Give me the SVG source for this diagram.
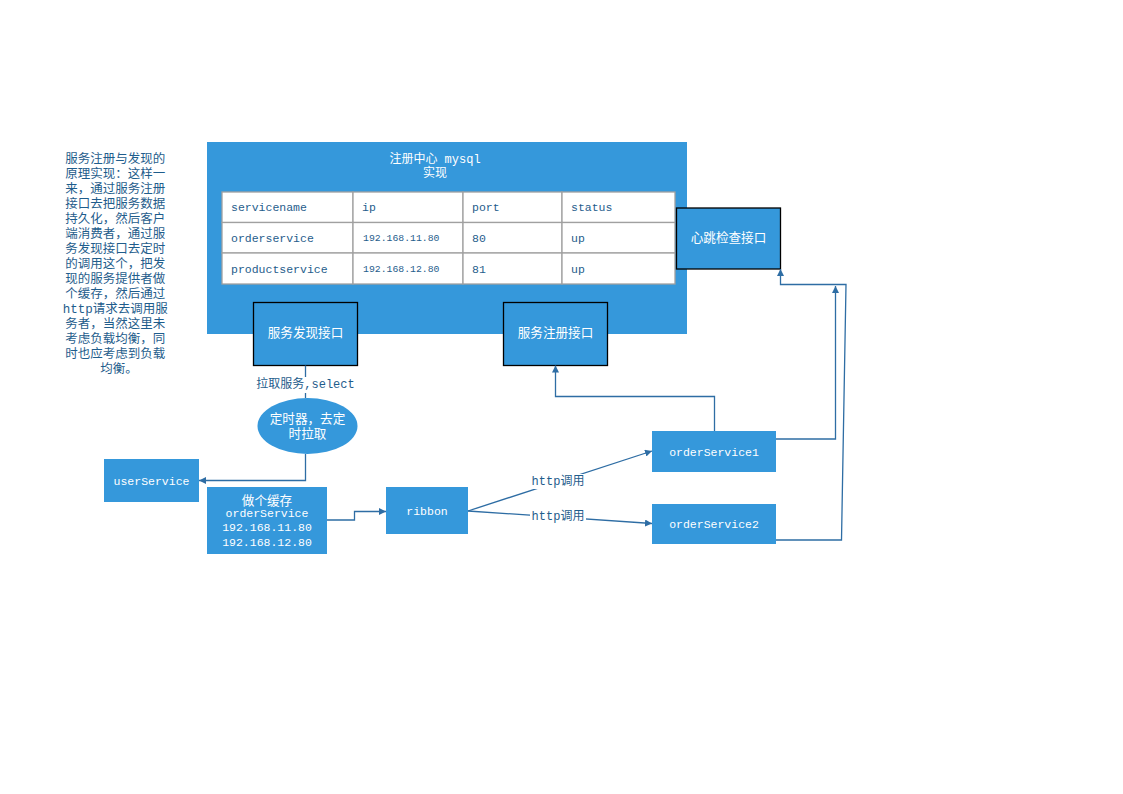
<svg xmlns="http://www.w3.org/2000/svg" width="1123" height="794" viewBox="0 0 1123 794">
<defs>
<style>
.t{font-family:"Liberation Mono","Noto Sans CJK SC",monospace;dominant-baseline:central}
.w{fill:#ffffff}
.d{fill:#1f5d8c}
.c{text-anchor:middle}
.box{fill:#3598db}
.bk{fill:#3598db;stroke:#000000;stroke-width:1.3}
.cell{fill:#ffffff;stroke:#a0a0a0;stroke-width:1.3}
.ln{fill:none;stroke:#2e6da4;stroke-width:1.3}
.lbl{fill:#ffffff}
</style>
<marker id="ah" viewBox="0 0 10 10" refX="10" refY="5" markerWidth="7" markerHeight="7" orient="auto" markerUnits="userSpaceOnUse">
<path d="M0,0 L10,5 L0,10 z" fill="#2e6da4"/>
</marker>
</defs>
<rect width="1123" height="794" fill="#ffffff"/>

<g id="note">
<text class="t d c" font-size="12.5" x="119">
<tspan x="119" y="160">服务注册与发现的</tspan>
<tspan x="119" y="175">原理实现：这样一</tspan>
<tspan x="119" y="190">来，通过服务注册</tspan>
<tspan x="119" y="205">接口去把服务数据</tspan>
<tspan x="119" y="220">持久化，然后客户</tspan>
<tspan x="119" y="235">端消费者，通过服</tspan>
<tspan x="119" y="250">务发现接口去定时</tspan>
<tspan x="119" y="265">的调用这个，把发</tspan>
<tspan x="119" y="280">现的服务提供者做</tspan>
<tspan x="119" y="295">个缓存，然后通过</tspan>
<tspan x="119" y="310">http请求去调用服</tspan>
<tspan x="119" y="325">务者，当然这里未</tspan>
<tspan x="119" y="340">考虑负载均衡，同</tspan>
<tspan x="119" y="355">时也应考虑到负载</tspan>
<tspan x="119" y="370">均衡。</tspan>
</text>
</g>

<g id="registry">
<rect class="box" x="207" y="142" width="480" height="192"/>
<text class="t w c" font-size="12" x="435" y="160">注册中心 mysql</text>
<text class="t w c" font-size="12" x="435" y="174">实现</text>
<g id="table">
<rect class="cell" x="222" y="192" width="131" height="30.5"/>
<rect class="cell" x="353" y="192" width="110" height="30.5"/>
<rect class="cell" x="463" y="192" width="99" height="30.5"/>
<rect class="cell" x="562" y="192" width="113" height="30.5"/>
<rect class="cell" x="222" y="222.5" width="131" height="30.5"/>
<rect class="cell" x="353" y="222.5" width="110" height="30.5"/>
<rect class="cell" x="463" y="222.5" width="99" height="30.5"/>
<rect class="cell" x="562" y="222.5" width="113" height="30.5"/>
<rect class="cell" x="222" y="253" width="131" height="31"/>
<rect class="cell" x="353" y="253" width="110" height="31"/>
<rect class="cell" x="463" y="253" width="99" height="31"/>
<rect class="cell" x="562" y="253" width="113" height="31"/>
<text class="t d" font-size="11.5" x="231" y="207.5">servicename</text>
<text class="t d" font-size="11.5" x="362" y="207.5">ip</text>
<text class="t d" font-size="11.5" x="472" y="207.5">port</text>
<text class="t d" font-size="11.5" x="571" y="207.5">status</text>
<text class="t d" font-size="11.5" x="231" y="238.5">orderservice</text>
<text class="t d" font-size="9.8" x="363" y="238">192.168.11.80</text>
<text class="t d" font-size="11.5" x="472" y="238.5">80</text>
<text class="t d" font-size="11.5" x="571" y="238.5">up</text>
<text class="t d" font-size="11.5" x="231" y="269.5">productservice</text>
<text class="t d" font-size="9.8" x="363" y="269">192.168.12.80</text>
<text class="t d" font-size="11.5" x="472" y="269.5">81</text>
<text class="t d" font-size="11.5" x="571" y="269.5">up</text>
</g>
</g>

<g id="heartbeat">
<rect class="bk" x="676.5" y="208" width="104" height="61"/>
<text class="t w c" font-size="12.6" x="728.5" y="238.5">心跳检查接口</text>
</g>

<g id="discovery">
<rect class="bk" x="253.5" y="302.5" width="104" height="63"/>
<text class="t w c" font-size="12.6" x="305.5" y="334">服务发现接口</text>
</g>

<g id="register">
<rect class="bk" x="503.5" y="302.5" width="104" height="63"/>
<text class="t w c" font-size="12.6" x="555.5" y="334">服务注册接口</text>
</g>

<g id="connectors">
<line class="ln" x1="305.5" y1="365.5" x2="305.5" y2="398"/>
<polyline class="ln" points="305.5,454 305.5,480.5 199,480.5" marker-end="url(#ah)"/>
<polyline class="ln" points="327,520 354.5,520 354.5,511.5 386,511.5" marker-end="url(#ah)"/>
<line class="ln" x1="468" y1="511" x2="652" y2="451" marker-end="url(#ah)"/>
<line class="ln" x1="468" y1="511" x2="652" y2="523.5" marker-end="url(#ah)"/>
<polyline class="ln" points="714.5,431 714.5,396.5 555.5,396.5 555.5,365.5" marker-end="url(#ah)"/>
<polyline class="ln" points="776,439 835.5,439 835.5,286" marker-end="url(#ah)"/>
<polyline class="ln" points="776,540 841.5,540 846,284.5 780.5,284.5 780.5,269" marker-end="url(#ah)"/>
<rect class="lbl" x="253" y="377" width="104" height="16"/>
<text class="t d c" font-size="12" x="305.5" y="385">拉取服务,select</text>
<rect class="lbl" x="530" y="474" width="56" height="15"/>
<text class="t d c" font-size="12" x="558" y="481.5">http调用</text>
<rect class="lbl" x="530" y="510" width="56" height="15"/>
<text class="t d c" font-size="12" x="558" y="517">http调用</text>
</g>

<g id="timer">
<ellipse class="box" cx="307.5" cy="426" rx="50" ry="28"/>
<text class="t w c" font-size="12.6" x="307.5" y="420">定时器，去定</text>
<text class="t w c" font-size="12.6" x="307.5" y="435">时拉取</text>
</g>

<g id="userService">
<rect class="box" x="104" y="459" width="95" height="43"/>
<text class="t w c" font-size="11.5" x="151.5" y="481">userService</text>
</g>

<g id="cache">
<rect class="box" x="207" y="487" width="120" height="67"/>
<text class="t w c" font-size="12.6" x="267" y="501.5">做个缓存</text>
<text class="t w c" font-size="11.5" x="267" y="513">orderService</text>
<text class="t w c" font-size="11.5" x="267" y="527.5">192.168.11.80</text>
<text class="t w c" font-size="11.5" x="267" y="542.5">192.168.12.80</text>
</g>

<g id="ribbon">
<rect class="box" x="386" y="487" width="82" height="47"/>
<text class="t w c" font-size="11.5" x="427" y="511">ribbon</text>
</g>

<g id="orderService1">
<rect class="box" x="652" y="431" width="124" height="41"/>
<text class="t w c" font-size="11.5" x="714" y="452">orderService1</text>
</g>

<g id="orderService2">
<rect class="box" x="652" y="504" width="124" height="40"/>
<text class="t w c" font-size="11.5" x="714" y="524.5">orderService2</text>
</g>
</svg>
